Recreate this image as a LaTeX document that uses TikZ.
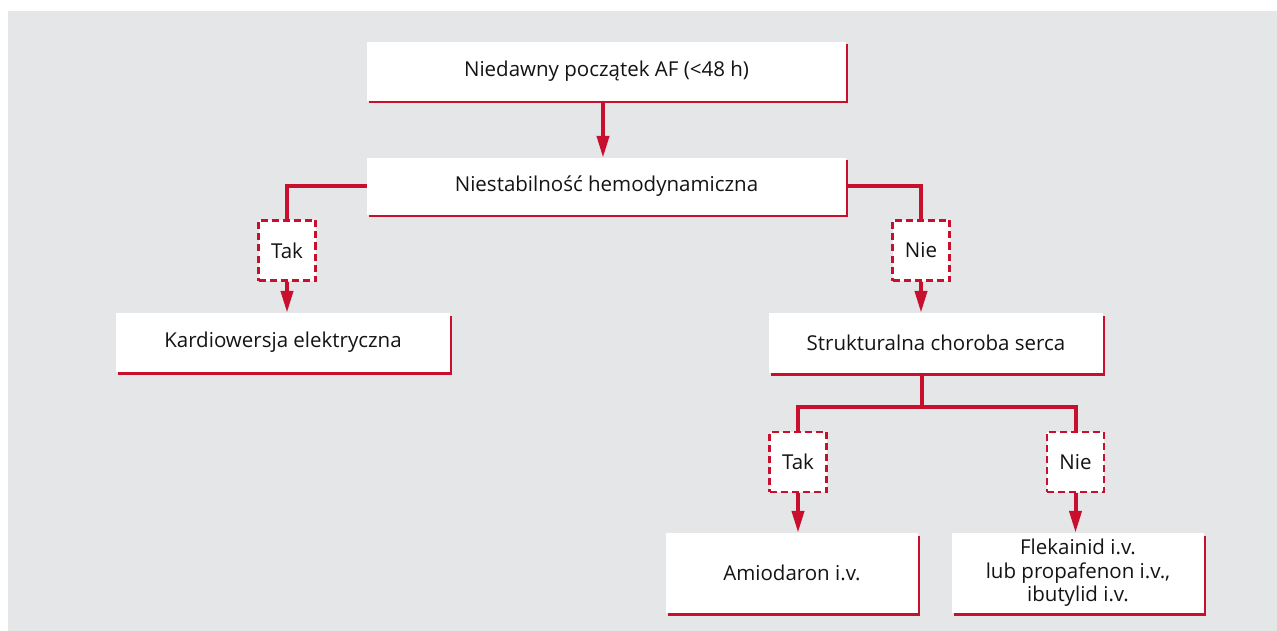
\documentclass[tikz,border=0pt]{standalone}
\usepackage{fontspec}
\setmainfont{Open Sans}
\usetikzlibrary{arrows.meta}
\definecolor{flowred}{HTML}{C8102E}
\definecolor{panelgrey}{HTML}{E5E6E8}
\definecolor{inktext}{HTML}{141414}
\tikzset{
  stepbox/.style={fill=white, text=inktext, align=center, inner sep=0pt,
    font=\fontsize{20.5}{23.5}\selectfont,
    preaction={fill=flowred, transform canvas={xshift=1.5pt, yshift=-2.5pt}}},
  answerbox/.style={fill=white, draw=flowred, line width=2.4pt,
    dash pattern=on 7pt off 4pt, text=inktext, inner sep=0pt,
    minimum width=57pt, minimum height=60pt,
    font=\fontsize{20.5}{23.5}\selectfont},
  link/.style={draw=flowred, line width=4pt, line join=miter},
  arrowlink/.style={link, -{Triangle[length=22pt,width=12pt]}},
}
\begin{document}
\begin{tikzpicture}[x=1pt,y=-1pt]
  \useasboundingbox (0,0) rectangle (1277,631);
  \fill[panelgrey] (8,11) rectangle (1277,631);

  % question boxes
  \node[stepbox, minimum width=479pt, minimum height=59pt] (onset) at (606.5,71.5) {Niedawny początek AF (<48 h)};
  \node[stepbox, minimum width=479pt, minimum height=57pt] (instab) at (606.5,186.5) {Niestabilność hemodynamiczna};
  \node[stepbox, minimum width=334pt, minimum height=59pt] (cardio) at (283,342.5) {Kardiowersja elektryczna};
  \node[stepbox, minimum width=334pt, minimum height=60pt] (struct) at (936,343) {Strukturalna choroba serca};
  \node[stepbox, minimum width=252pt, minimum height=80pt] (amio) at (792,573) {Amiodaron i.v.};
  \node[stepbox, minimum width=252pt, minimum height=80pt] (fleca) at (1078,573) {Flekainid i.v.\\lub propafenon i.v.,\\ibutylid i.v.};

  % yes / no labels
  \node[answerbox] (yesA) at (287,250.5) {Tak};
  \node[answerbox] (noA) at (921,250.5) {Nie};
  \node[answerbox] (yesB) at (798,462) {Tak};
  \node[answerbox] (noB) at (1075.5,462) {Nie};

  \coordinate (split) at (921.5,407);

  % connectors
  \draw[arrowlink] (onset.south -| 603,0) -- (instab.north -| 603,0);
  \draw[link] (instab.west) -| (yesA.north);
  \draw[link] (instab.east) -| (noA.north);
  \draw[arrowlink] (yesA.south) -- (yesA.south |- cardio.north);
  \draw[arrowlink] (noA.south) -- (noA.south |- struct.north);
  \draw[link] (struct.south -| split) -- (split);
  \draw[link] (yesB.north) |- (split) -| (noB.north);
  \draw[arrowlink] (yesB.south) -- (yesB.south |- amio.north);
  \draw[arrowlink] (noB.south) -- (noB.south |- fleca.north);
\end{tikzpicture}
\end{document}
